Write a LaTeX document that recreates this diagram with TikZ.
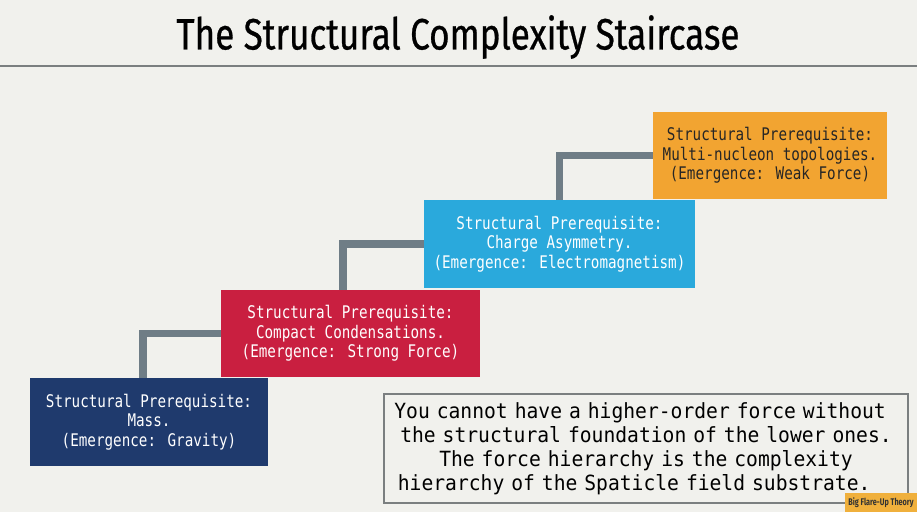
\documentclass[tikz,border=0pt]{standalone}
\usepackage{fontspec}
\usepackage{tikz}
\usetikzlibrary{backgrounds,calc,positioning}
\newfontfamily\titlefont[FakeStretch=0.8,FakeBold=0.6]{Fira Sans}
\newfontfamily\badgefont[FakeStretch=0.75]{Fira Sans}
\newfontfamily\stepfont[FakeStretch=0.82]{DejaVu Sans Mono}
\newfontfamily\notefont[FakeStretch=0.94]{DejaVu Sans Mono}
\definecolor{paper}{HTML}{F1F1ED}
\definecolor{massblue}{HTML}{1F3A6D}
\definecolor{strongred}{HTML}{C91F40}
\definecolor{emcyan}{HTML}{2AA9DC}
\definecolor{weakorange}{HTML}{F2A431}
\definecolor{stairgray}{HTML}{6F7D86}
\definecolor{rulegray}{HTML}{7B7F80}
\definecolor{badgegold}{HTML}{F0B03C}
\begin{document}
\begin{tikzpicture}[x=0.02cm,y=-0.02cm,
  stepbox/.style={inner sep=0pt,align=center,text=white,
    font=\stepfont\fontsize{9.9}{11.1}\selectfont},
  stair/.style={stairgray,line width=4.5pt},
  notebox/.style={draw=rulegray,line width=1.1pt,fill=paper,inner sep=0pt,
    text width=10.48cm,minimum height=2.18cm,align=center,
    font=\notefont\fontsize{11.9}{13.6}\selectfont}]
\useasboundingbox (0,0) rectangle (917,512);
\begin{scope}[on background layer]
\fill[paper] (0,0) rectangle (917,512);
\end{scope}
% title and rule
\node[font=\titlefont\fontsize{25}{29}\selectfont] (title) at (458,37) {The Structural Complexity Staircase};
\draw[rulegray,line width=1.1pt] (0,66) coordinate (ruleL) -- (917,66) coordinate (ruleR);
% the four steps
\node[stepbox,fill=massblue,minimum width=4.76cm,minimum height=1.76cm] (mass) at (149,422)
  {\strut Structural Prerequisite:\\Mass.\\(Emergence: Gravity)};
\node[stepbox,fill=strongred,minimum width=5.18cm,minimum height=1.74cm] (strong) at (350.5,333.5)
  {\strut Structural Prerequisite:\\Compact Condensations.\\(Emergence: Strong Force)};
\node[stepbox,fill=emcyan,minimum width=5.42cm,minimum height=1.76cm] (charge) at (559.5,244)
  {\strut Structural Prerequisite:\\Charge Asymmetry.\\(Emergence: Electromagnetism)};
\node[stepbox,fill=weakorange,text=black!85,minimum width=4.68cm,minimum height=1.74cm] (weak) at (770,155.5)
  {\strut Structural Prerequisite:\\Multi-nucleon topologies.\\(Emergence: Weak Force)};
% risers behind the boxes
\begin{scope}[on background layer]
\draw[stair] ([xshift=-0.12cm]mass.north) |- (strong.west);
\draw[stair] ([xshift=-0.15cm]strong.north) |- (charge.west);
\draw[stair] (charge.north) |- (weak.west);
\end{scope}
% note
\node[notebox] (note) at (646,448.5)
  {\strut You cannot have a higher-order force without\hphantom{x}\\
   the structural foundation of the lower ones.\\
   The force hierarchy is the complexity\\
   hierarchy of the Spaticle field substrate.\hphantom{xx}};
\node[fill=badgegold,inner sep=0pt,minimum width=1.44cm,minimum height=0.38cm,
  text=black!80,font=\badgefont\bfseries\fontsize{5.5}{6}\selectfont] (badge) at (881,502.5) {Big Flare-Up Theory};
\end{tikzpicture}
\end{document}
